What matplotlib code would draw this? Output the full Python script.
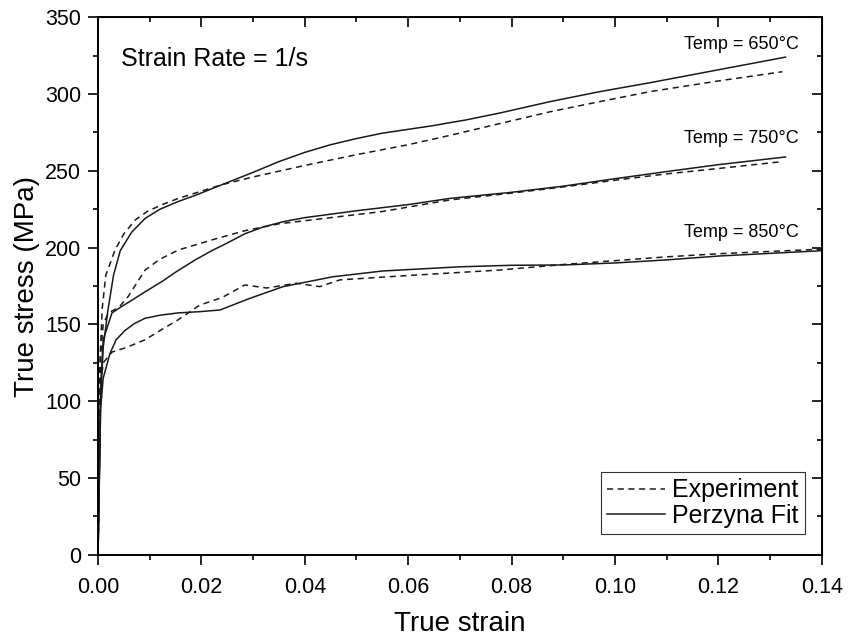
import matplotlib.pyplot as plt
from matplotlib.ticker import MultipleLocator

plt.rcParams['font.family'] = ['Liberation Sans', 'DejaVu Sans']

# 650 C
exp650_x = [0, 0.0003, 0.0008, 0.0015, 0.0033, 0.005, 0.0072, 0.0095, 0.0124, 0.0155, 0.0188, 0.024,
            0.03, 0.04, 0.05, 0.06, 0.068, 0.0774, 0.0874, 0.097, 0.1067, 0.12, 0.1324]
exp650_y = [0, 120, 160, 182, 198.5, 209, 218, 223.5, 228, 232, 235.5, 241,
            246, 253.5, 260.5, 267, 273, 280.5, 288.4, 295, 301.5, 308.5, 314.5]
fit650_x = [0, 0.0005, 0.001, 0.0019, 0.003, 0.0043, 0.0065, 0.0091, 0.012, 0.0155, 0.0188, 0.024,
            0.03, 0.035, 0.04, 0.045, 0.05, 0.055, 0.06, 0.065, 0.068, 0.071, 0.0777,
            0.0874, 0.097, 0.1067, 0.1196, 0.133]
fit650_y = [0, 100, 135, 159, 182, 198, 210, 219, 225, 230, 234, 241,
            249, 256, 262, 267, 271, 274.5, 277, 279.5, 281.3, 283, 287.6,
            295, 301.5, 307.3, 315.5, 324]

# 750 C
exp750_x = [0, 0.0005, 0.001, 0.002, 0.004, 0.0058, 0.0075, 0.0091, 0.012, 0.0155, 0.022, 0.0284,
            0.035, 0.045, 0.055, 0.068, 0.08, 0.09, 0.1003, 0.11, 0.12, 0.1324]
exp750_y = [0, 130, 150, 157.5, 161, 168, 177, 185.4, 192.5, 198.4, 205, 211,
            215.5, 219.5, 223.5, 231, 235.5, 239.5, 244, 248, 251.5, 256]
fit750_x = [0, 0.0005, 0.001, 0.0027, 0.0045, 0.0062, 0.009, 0.0124, 0.015, 0.0188, 0.022, 0.025,
            0.0284, 0.032, 0.036, 0.04, 0.05, 0.06, 0.068, 0.08, 0.09, 0.1003, 0.11, 0.12, 0.133]
fit750_y = [0, 110, 140, 157.5, 161.5, 165, 171, 178, 184, 192, 198, 203,
            209, 213.5, 217, 219.5, 224, 228, 232, 236, 240, 245, 249.5, 254, 259]

# 850 C
exp850_x = [0, 0.0005, 0.001, 0.0027, 0.0055, 0.0091, 0.012, 0.0155, 0.0197, 0.024, 0.0284, 0.0326,
            0.0384, 0.0429, 0.0468, 0.0584, 0.0777, 0.09, 0.10, 0.11, 0.12, 0.14]
exp850_y = [0, 110, 125, 132, 135, 140, 146, 153, 162.6, 167.5, 175.7, 173.7,
            176.8, 174.6, 179, 181.5, 185.4, 189, 191.5, 194, 196, 199]
fit850_x = [0, 0.0005, 0.001, 0.0023, 0.0035, 0.0052, 0.007, 0.0091, 0.012, 0.0155, 0.0197, 0.0236,
            0.0294, 0.0358, 0.0454, 0.0551, 0.07, 0.08, 0.09, 0.10, 0.11, 0.12, 0.14]
fit850_y = [0, 95, 115, 131, 140, 146, 150.5, 154, 156, 157.5, 158.3, 159.4,
            167, 174.6, 181, 184.8, 187.5, 188.5, 188.7, 190, 192, 194.5, 198]

fig = plt.figure(figsize=(8.48, 6.37), dpi=100)
ax = fig.add_axes([0.1156, 0.129, 0.8534, 0.844])

lw = 1.1
dash = (4, 3)
ax.plot(exp650_x, exp650_y, color='#1a1a1a', lw=lw, ls='--', dashes=dash, label='Experiment')
ax.plot(fit650_x, fit650_y, color='#1a1a1a', lw=lw, label='Perzyna Fit')
ax.plot(exp750_x, exp750_y, color='#1a1a1a', lw=lw, ls='--', dashes=dash)
ax.plot(fit750_x, fit750_y, color='#1a1a1a', lw=lw)
ax.plot(exp850_x, exp850_y, color='#1a1a1a', lw=lw, ls='--', dashes=dash)
ax.plot(fit850_x, fit850_y, color='#1a1a1a', lw=lw)

ax.set_xlim(0, 0.14)
ax.set_ylim(0, 350)
ax.xaxis.set_major_locator(MultipleLocator(0.02))
ax.xaxis.set_minor_locator(MultipleLocator(0.01))
ax.yaxis.set_major_locator(MultipleLocator(50))
ax.yaxis.set_minor_locator(MultipleLocator(25))
ax.xaxis.set_major_formatter(plt.FuncFormatter(lambda v, p: f'{v:.2f}'))

ax.tick_params(which='both', direction='out', top=False, right=False, width=1.2)
ax.tick_params(which='major', length=7, labelsize=15.5)
ax.tick_params(axis='x', which='major', pad=9)
ax.tick_params(axis='y', which='major', pad=5)
ax.tick_params(which='minor', length=3.5)
for s in ax.spines.values():
    s.set_linewidth(1.4)

# inward ticks on the top and right edges
tx = ax.secondary_xaxis('top')
tx.xaxis.set_major_locator(MultipleLocator(0.02))
tx.xaxis.set_minor_locator(MultipleLocator(0.01))
tx.tick_params(which='both', direction='in', labeltop=False, width=1.2)
tx.tick_params(which='major', length=7)
tx.tick_params(which='minor', length=3.5)
ty = ax.secondary_yaxis('right')
ty.yaxis.set_major_locator(MultipleLocator(50))
ty.yaxis.set_minor_locator(MultipleLocator(25))
ty.tick_params(which='both', direction='in', labelright=False, width=1.2)
ty.tick_params(which='major', length=7)
ty.tick_params(which='minor', length=3.5)

ax.set_xlabel('True strain', fontsize=20, labelpad=9)
ax.set_ylabel('True stress (MPa)', fontsize=20, labelpad=4)

ax.text(0.0045, 323, 'Strain Rate = 1/s', fontsize=18, va='center')
ax.text(0.1355, 332, 'Temp = 650°C', fontsize=13, ha='right', va='center')
ax.text(0.1355, 271, 'Temp = 750°C', fontsize=13, ha='right', va='center')
ax.text(0.1355, 210, 'Temp = 850°C', fontsize=13, ha='right', va='center')

leg = ax.legend(loc='lower right', bbox_to_anchor=(0.9765, 0.039), fontsize=18,
                fancybox=False, framealpha=1, edgecolor='#333333', handlelength=2.3,
                borderpad=0.25, labelspacing=0.05, handletextpad=0.3, borderaxespad=0)
leg.get_frame().set_linewidth(0.8)

fig.savefig('out.png', dpi=100)
